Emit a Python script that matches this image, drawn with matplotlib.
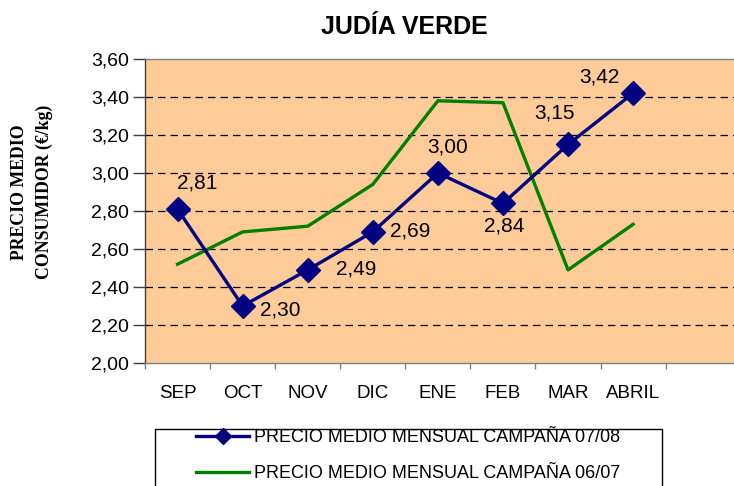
import matplotlib
matplotlib.use("Agg")
import matplotlib.pyplot as plt
from matplotlib.patches import Rectangle

plt.rcParams['font.family'] = ['Liberation Sans', 'DejaVu Sans']

meses = ['SEP', 'OCT', 'NOV', 'DIC', 'ENE', 'FEB', 'MAR', 'ABRIL']
precio_0708 = [2.81, 2.30, 2.49, 2.69, 3.00, 2.84, 3.15, 3.42]
precio_0607 = [2.52, 2.69, 2.72, 2.94, 3.38, 3.37, 2.49, 2.73]
y_ticks = [2.00, 2.20, 2.40, 2.60, 2.80, 3.00, 3.20, 3.40, 3.60]
serie_0708 = 'PRECIO MEDIO MENSUAL CAMPAÑA 07/08'
serie_0607 = 'PRECIO MEDIO MENSUAL CAMPAÑA 06/07'

# where each value label sits relative to its point (in points)
label_offsets = [(14, 19), (27, -3), (35, 1), (27, 1), (7, 19), (1, -16), (-10, 23), (-24, 12)]

W, H = 734, 486
fig = plt.figure(figsize=(W / 100, H / 100), dpi=100)
ax = fig.add_axes([145 / W, 1 - 363 / H, 589 / W, (363 - 59) / H])
ax.set_facecolor('#FFCC99')

x = list(range(len(meses)))
ax.plot(x, precio_0607, color='#008000', lw=2.4, label=serie_0607, zorder=3)
ax.plot(x, precio_0708, color='#000080', lw=2.4, marker='D', ms=12,
        label=serie_0708, zorder=4)

for xi, v, off in zip(x, precio_0708, label_offsets):
    ax.annotate(f'{v:.2f}'.replace('.', ','), (xi, v), xytext=off,
                textcoords='offset points', ha='center', va='center', fontsize=15)

# dashed gridlines only between the limits
for yv in y_ticks[1:-1]:
    ax.axhline(yv, color='black', lw=0.9, ls=(0, (6, 4)), zorder=1)

ax.set_xlim(-0.5, 8.55)
ax.set_ylim(y_ticks[0], y_ticks[-1])

ax.set_yticks(y_ticks)
ax.set_yticklabels([f'{t:.2f}'.replace('.', ',') for t in y_ticks])
ax.tick_params(axis='y', length=8.5, width=1, color='#404040', labelsize=14, pad=3)

ax.set_xticks(x)
ax.set_xticklabels(meses)
ax.set_xticks([i - 0.5 for i in range(len(meses) + 1)], minor=True)
ax.tick_params(axis='x', which='major', length=0, labelsize=13.5, pad=16)
ax.tick_params(axis='x', which='minor', length=4.5, width=1, color='#808080')

ax.spines['right'].set_visible(False)
ax.spines['top'].set_color('#808080')
ax.spines['bottom'].set_color('#808080')
ax.spines['left'].set_color('#404040')
for s in ax.spines.values():
    s.set_linewidth(1)

fig.text(404 / W, 1 - 27 / H, 'JUDÍA VERDE', ha='center', va='center',
         fontsize=18, weight='bold')
fig.text(32 / W, 1 - 192 / H, 'PRECIO MEDIO\nCONSUMIDOR (€/kg)', rotation=90,
         ha='center', va='center', multialignment='center', linespacing=1.6,
         family=['Liberation Serif', 'DejaVu Serif'], weight='bold', fontsize=12.8)

# legend box runs past the bottom edge, like the original
fig.patches.append(Rectangle((155 / W, -0.05), (662 - 155) / W, 1 - 429 / H + 0.05,
                             transform=fig.transFigure, fill=False, ec='black', lw=1))
handles, labels = ax.get_legend_handles_labels()
fig.legend(handles[::-1], labels[::-1], loc='upper center',
           bbox_to_anchor=(408.5 / W, 1 - 429 / H), frameon=False, fontsize=13,
           handlelength=2.9, handletextpad=0.3, labelspacing=1.05, borderpad=0,
           borderaxespad=0, markerscale=0.7)

fig.savefig('out.png', dpi=100)
